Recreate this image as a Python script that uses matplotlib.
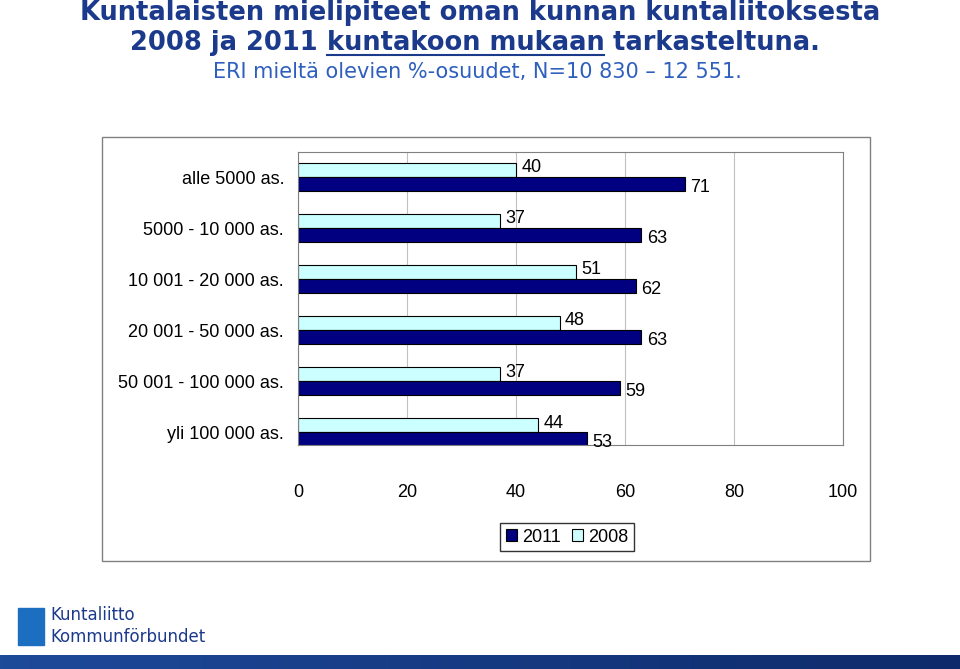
import matplotlib
matplotlib.use("Agg")
import matplotlib.pyplot as plt
from matplotlib.patches import Rectangle
import numpy as np
from matplotlib import font_manager

names = {f.name for f in font_manager.fontManager.ttflist}
NARROW = "Liberation Sans Narrow" if "Liberation Sans Narrow" in names else "Liberation Sans"

categories = ["alle 5000 as.", "5000 - 10 000 as.", "10 001 - 20 000 as.",
              "20 001 - 50 000 as.", "50 001 - 100 000 as.", "yli 100 000 as."]
v2008 = [40, 37, 51, 48, 37, 44]
v2011 = [71, 63, 62, 63, 59, 53]
xticks = [0, 20, 40, 60, 80, 100]

W, H = 960, 669
fig = plt.figure(figsize=(9.6, 6.69), dpi=100)
fig.patch.set_facecolor("white")

def fx(px): return px / W
def fy(py): return 1 - py / H

fig.patches.append(Rectangle((fx(102), fy(561)), fx(870) - fx(102), fy(137) - fy(561),
                             transform=fig.transFigure, fill=False, edgecolor="#808080", lw=1))

ax = fig.add_axes([fx(298), fy(445), fx(843) - fx(298), fy(152) - fy(445)])
y = np.arange(len(categories))
h = 0.27
ax.barh(y - 0.14, v2008, height=h, color="#CCFFFF", edgecolor="black", lw=0.8, label="2008")
ax.barh(y + 0.14, v2011, height=h, color="#000080", edgecolor="black", lw=0.8, label="2011")
for yi, a, b in zip(y, v2008, v2011):
    ax.text(a + 1, yi - 0.18, str(a), ha="left", va="center", fontsize=13, family=NARROW)
    ax.text(b + 1, yi + 0.2, str(b), ha="left", va="center", fontsize=13, family=NARROW)
ax.set_xlim(0, 100)
ax.set_ylim(5.25, -0.49)
ax.set_xticks(xticks)
ax.set_xticklabels([str(t) for t in xticks], family=NARROW, fontsize=13)
ax.tick_params(axis="x", length=0, pad=28)
ax.set_yticks(y)
ax.set_yticklabels(categories, family=NARROW, fontsize=13)
ax.tick_params(axis="y", length=0, pad=10)
ax.grid(axis="x", color="#c0c0c0", lw=0.8)
ax.set_axisbelow(True)
for s in ax.spines.values():
    s.set_color("#808080")

handles, labels = ax.get_legend_handles_labels()
fig.legend(handles[::-1], labels[::-1], loc="center", bbox_to_anchor=(fx(567), fy(537)),
           ncol=2, frameon=True, fancybox=False, edgecolor="black",
           prop={"family": NARROW, "size": 13}, handlelength=0.6, handleheight=0.6,
           handletextpad=0.3, columnspacing=0.6, borderpad=0.3)

navy = "#1C3A8C"
TS = 18.5
fig.text(fx(80), fy(13), "Kuntalaisten mielipiteet oman kunnan kuntaliitoksesta",
         fontsize=TS, fontweight="bold", color=navy, va="center", family="DejaVu Sans")
t1 = fig.text(fx(130), fy(43), "2008 ja 2011 ", fontsize=TS, fontweight="bold", color=navy,
              va="center", family="DejaVu Sans")
fig.canvas.draw()
r = fig.canvas.get_renderer()
bb = t1.get_window_extent(r)
t2 = fig.text(bb.x1 / W, fy(43), "kuntakoon mukaan", fontsize=TS, fontweight="bold",
              color=navy, va="center", family="DejaVu Sans")
bb2 = t2.get_window_extent(r)
fig.lines.append(plt.Line2D([bb2.x0 / W, bb2.x1 / W], [fy(55), fy(55)], transform=fig.transFigure,
                            color=navy, lw=1.5))
fig.text(bb2.x1 / W, fy(43), " tarkasteltuna.", fontsize=TS, fontweight="bold", color=navy,
         va="center", family="DejaVu Sans")
fig.text(fx(213), fy(72), "ERI mieltä olevien %-osuudet, N=10 830 – 12 551.",
         fontsize=15, color="#2E5FBF", va="center", family="DejaVu Sans")

fig.text(fx(50), fy(615), "Kuntaliitto", fontsize=12, color="#1C3A8C", va="center", family="DejaVu Sans")
fig.text(fx(50), fy(637), "Kommunförbundet", fontsize=12, color="#1C3A8C", va="center", family="DejaVu Sans")
fig.patches.append(Rectangle((fx(18), fy(645)), fx(26), fy(608) - fy(645), transform=fig.transFigure,
                             color="#1C6FC0"))
grad = np.linspace(0, 1, 256).reshape(1, -1)
bax = fig.add_axes([0, 0, 1, 14 / H])
bax.imshow(grad, aspect="auto", cmap=matplotlib.colors.LinearSegmentedColormap.from_list(
    "g", ["#1E4A9A", "#0E2A6A"]))
bax.axis("off")

fig.savefig("out.png", dpi=100)
